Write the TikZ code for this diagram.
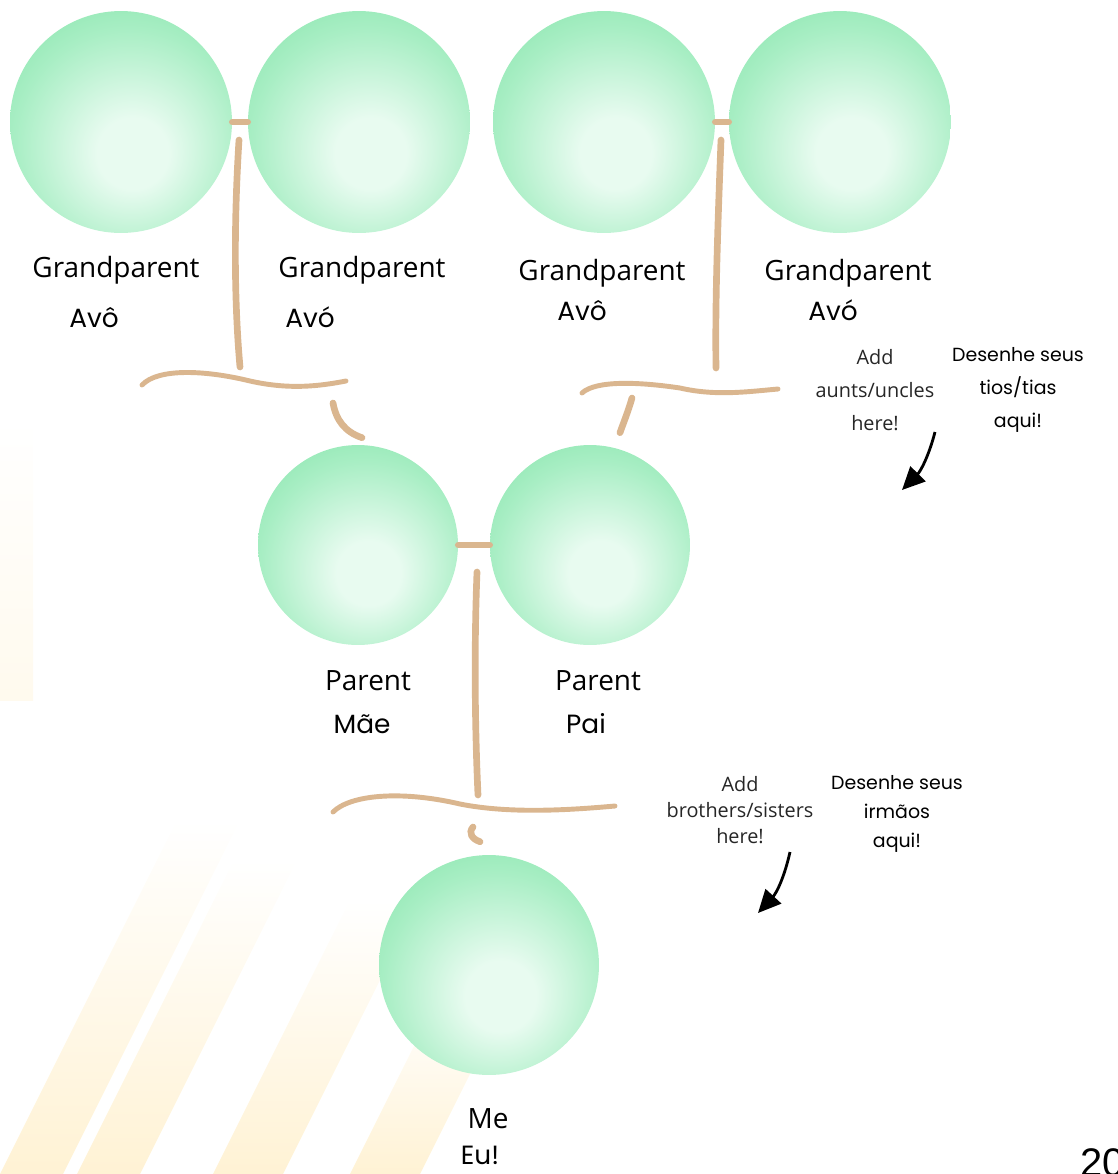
\documentclass[tikz,border=0pt]{standalone}
\usepackage{fontspec}
\setmainfont{Open Sans}
\newfontfamily\ptfont{Poppins}
\newfontfamily\numfont{Liberation Sans}
\usetikzlibrary{calc,arrows.meta,positioning}
\definecolor{bubbleout}{RGB}{112,222,155}
\definecolor{bubblemid}{RGB}{168,238,196}
\definecolor{bubblein}{RGB}{232,251,240}
\definecolor{twigcol}{RGB}{218,182,143}
\definecolor{raycol}{RGB}{255,242,212}
\pgfdeclareradialshading{bubble}{\pgfpoint{3bp}{-8bp}}{color(0bp)=(bubblein); color(8bp)=(bubblein); color(26bp)=(bubblemid); color(46bp)=(bubbleout); color(70bp)=(bubbleout)}
\tikzset{
    ball/.style={circle, shade, shading=bubble, minimum size=4.44cm, inner sep=0pt},
    midball/.style={ball, minimum size=4cm},
    twig/.style={draw=twigcol, line width=3.8pt, line cap=round},
    bough/.style={draw=twigcol, line width=2.8pt, line cap=round},
    pointer/.style={draw, line width=1.6pt, -{Triangle[length=13pt, width=12pt]}},
    en/.style={font=\fontsize{15.9}{19}\selectfont, text=black, inner sep=0pt},
    pt/.style={font=\ptfont\fontsize{15}{18}\selectfont, inner sep=0pt},
    note/.style={align=center, inner sep=0pt, text=black!85}
}
\begin{document}
\begin{tikzpicture}[x=0.02cm, y=-0.02cm]
    \useasboundingbox (0,0) rectangle (1117,1174);
    \clip (0,0) rectangle (1117,1174);

    % background rays
    \foreach \lo/\hi/\up in {0/63/820, 77/140/860, 213/283/900, 350/420/1000} {
        \shade[top color=white, bottom color=raycol] (\lo,1174) -- (\hi,1174)
            -- ({\hi+0.5*(1174-\up)},\up) -- ({\lo+0.5*(1174-\up)},\up) -- cycle;
    }
    \shade[top color=white, bottom color=raycol!40] (0,700) -- (33,700) -- (33,420) -- (0,420) -- cycle;

    % Nodes
    \node[ball] (gpA) at (121,122) {};
    \node[ball] (gpB) at (359,122) {};
    \node[ball] (gpC) at (604,122) {};
    \node[ball] (gpD) at (840,122) {};
    \node[midball] (mae) at (358,545) {};
    \node[midball] (pai) at (590,545) {};
    \node[ball, minimum size=4.4cm] (eu) at (489,965) {};

    % labels
    \node[en, anchor=base] (gpA-en) at (116,277) {Grandparent};
    \node[en, anchor=base] (gpB-en) at (362,277) {Grandparent};
    \node[en, anchor=base] (gpC-en) at (602,280) {Grandparent};
    \node[en, anchor=base] (gpD-en) at (848,280) {Grandparent};
    \node[pt, anchor=base] (gpA-pt) at (94,327) {Avô};
    \node[pt, anchor=base] (gpB-pt) at (310,327) {Avó};
    \node[pt, anchor=base] (gpC-pt) at (582,320) {Avô};
    \node[pt, anchor=base] (gpD-pt) at (833,320) {Avó};
    \node[en, anchor=base] (mae-en) at (368,690) {Parent};
    \node[en, anchor=base] (pai-en) at (598,690) {Parent};
    \node[pt, anchor=base] (mae-pt) at (362,733) {Mãe};
    \node[pt, anchor=base] (pai-pt) at (586,733) {Pai};
    \node[en, anchor=base] (eu-en) at (488,1128) {Me};
    \node[pt, anchor=base] (eu-pt) at (480,1164) {Eu!};

    % notes
    \node[note, font=\fontsize{11.3}{18.7}\selectfont] (auntsEn) at (875,390) {Add\\aunts/uncles\\here!};
    \node[note, font=\ptfont\fontsize{10.8}{18.7}\selectfont, text=black] (auntsPt) at (1018,390) {Desenhe seus\\tios/tias\\aqui!};
    \node[note, font=\fontsize{11.3}{14.7}\selectfont] (broEn) at (740,810) {Add\\brothers/sisters\\here!};
    \node[note, font=\ptfont\fontsize{10.8}{16.4}\selectfont, text=black] (broPt) at (897,814) {Desenhe seus\\irmãos\\aqui!};
    \node[font=\numfont\fontsize{22.7}{26}\selectfont, anchor=base west, inner sep=0pt] (page) at (1080,1176) {20};

    % joints
    \coordinate (stemA) at (239,140);
    \coordinate (footA) at (240,367);
    \coordinate (braceAl) at (142,385);
    \coordinate (braceAr) at (346,381);
    \coordinate (tickA) at (333,403);
    \coordinate (stemC) at (721,140);
    \coordinate (footC) at (716,368);
    \coordinate (braceCl) at (582,393);
    \coordinate (braceCr) at (778,389);
    \coordinate (tickC) at (632,398);
    \coordinate (stemP) at (477,572);
    \coordinate (footP) at (478,795);
    \coordinate (bracePl) at (333,812);
    \coordinate (bracePr) at (615,806);
    \coordinate (tickP) at (473,827);
    \coordinate (auntsFrom) at (935,432);
    \coordinate (auntsTo) at (902,490);
    \coordinate (broFrom) at (790,852);
    \coordinate (broTo) at (758,913);

    % edges
    \draw[twig] (gpA.east) -- (gpB.west);
    \draw[twig] (gpC.east) -- (gpD.west);
    \draw[twig] (mae.east) -- (pai.west);
    \draw[twig] (stemA) .. controls (234,220) and (234,300) .. (footA);
    \draw[twig] (stemC) .. controls (718,220) and (715,300) .. (footC);
    \draw[twig] (stemP) .. controls (474,650) and (475,730) .. (footP);
    \draw[bough] (braceAl) .. controls (158,368) and (205,370) .. (250,381) .. controls (290,390) and (320,386) .. (braceAr);
    \draw[bough] (braceCl) .. controls (596,380) and (640,382) .. (680,388) .. controls (715,396) and (745,392) .. (braceCr);
    \draw[bough] (bracePl) .. controls (350,795) and (400,790) .. (460,804) .. controls (510,814) and (570,810) .. (bracePr);
    \draw[twig] (tickA) .. controls (336,420) and (345,432) .. ([shift={(4,-7)}]mae.north);
    \draw[twig] (tickC) .. controls (628,412) and (623,424) .. ([shift={(30,-12)}]pai.north);
    \draw[twig] (tickP) .. controls (468,833) and (472,839) .. ([shift={(-9,-13)}]eu.north);
    \draw[pointer] (auntsFrom) to[bend left=15] (auntsTo);
    \draw[pointer] (broFrom) to[bend left=15] (broTo);
\end{tikzpicture}
\end{document}
